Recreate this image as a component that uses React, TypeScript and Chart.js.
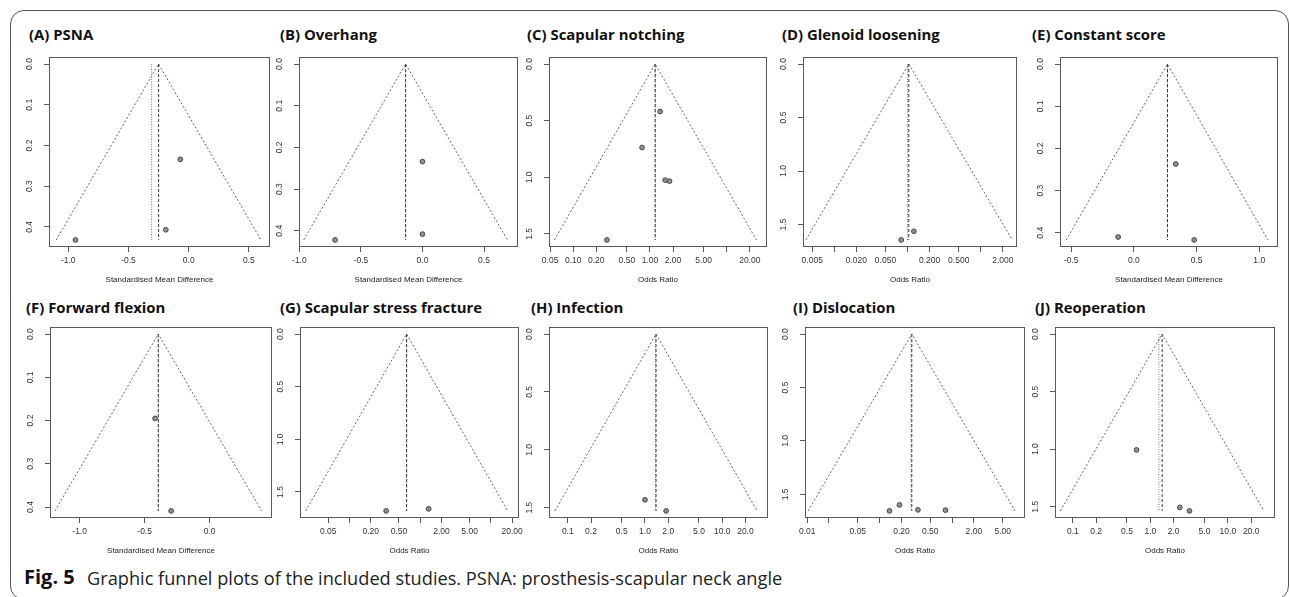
import React, { useEffect, useRef } from 'react';
import { Chart, registerables } from 'chart.js';

Chart.register(...registerables);

// ---------------- data ----------------
const panelTitles = [
  '(A) PSNA',
  '(B) Overhang',
  '(C) Scapular notching',
  '(D) Glenoid loosening',
  '(E) Constant score',
  '(F) Forward flexion',
  '(G) Scapular stress fracture',
  '(H) Infection',
  '(I) Dislocation',
  '(J) Reoperation',
];
const xAxisTitles = [
  'Standardised Mean Difference',
  'Standardised Mean Difference',
  'Odds Ratio',
  'Odds Ratio',
  'Standardised Mean Difference',
  'Standardised Mean Difference',
  'Odds Ratio',
  'Odds Ratio',
  'Odds Ratio',
  'Odds Ratio',
];
const isOddsRatio = [false, false, true, true, false, false, true, true, true, true];

// study effect estimates (x) and standard errors (y)
const effectA = [-0.94, -0.19, -0.07];
const seA = [0.432, 0.407, 0.234];
const effectB = [-0.71, 0.0, 0.0];
const seB = [0.422, 0.234, 0.408];
const effectC = [1.36, 0.79, 1.58, 1.8, 0.275];
const seC = [0.419, 0.737, 1.025, 1.034, 1.553];
const effectD = [0.082, 0.122];
const seD = [1.644, 1.563];
const effectE = [-0.126, 0.481, 0.334];
const seE = [0.41, 0.417, 0.237];
const effectF = [-0.42, -0.296];
const seF = [0.195, 0.409];
const effectG = [0.33, 1.32];
const seG = [1.68, 1.66];
const effectH = [1.0, 1.88];
const seH = [1.432, 1.528];
const effectI = [0.137, 0.188, 0.338, 0.811];
const seI = [1.655, 1.599, 1.645, 1.648];
const effectJ = [0.664, 2.4, 3.2];
const seJ = [1.006, 1.506, 1.536];

const studyEffects = [effectA, effectB, effectC, effectD, effectE, effectF, effectG, effectH, effectI, effectJ];
const studySE = [seA, seB, seC, seD, seE, seF, seG, seH, seI, seJ];

// pooled estimates: fixed (dashed) and random (dotted)
const fixedEffect = [-0.25, -0.137, 1.17, 0.104, 0.268, -0.395, 0.643, 1.39, 0.278, 1.42];
const randomEffect = [-0.308, -0.137, 1.17, 0.1, 0.268, -0.395, 0.643, 1.37, 0.272, 1.29];
// funnel (pseudo 95% CI) limits at the largest standard error
const maxSE = [0.432, 0.422, 1.553, 1.644, 0.417, 0.409, 1.68, 1.528, 1.655, 1.536];
const funnelLower = [-1.1, -0.965, 0.057, 0.0041, -0.54, -1.19, 0.024, 0.068, 0.0103, 0.069];
const funnelUpper = [0.6, 0.69, 24.4, 2.69, 1.07, 0.4, 17.3, 28.4, 7.4, 29.2];

// axes
const xAxisMin = [-1.16, -1.003, 0.0484, 0.00374, -0.59, -1.228, 0.01995, 0.0571, 0.00933, 0.0589];
const xAxisMax = [0.675, 0.776, 33.5, 3.12, 1.15, 0.48, 25.0, 39.2, 10.16, 40.6];

const smdTicks = [-1, -0.5, 0, 0.5];
const smdTickLabels = ['-1.0', '-0.5', '0.0', '0.5'];
const orTicksC = [0.05, 0.1, 0.2, 0.5, 1, 2, 5, 10, 20];
const orLabelsC = ['0.05', '0.10', '0.20', '0.50', '1.00', '2.00', '5.00', '', '20.00'];
const orTicksD = [0.005, 0.01, 0.02, 0.05, 0.1, 0.2, 0.5, 1, 2];
const orLabelsD = ['0.005', '', '0.020', '0.050', '', '0.200', '0.500', '', '2.000'];
const smdTicksE = [-0.5, 0, 0.5, 1];
const smdLabelsE = ['-0.5', '0.0', '0.5', '1.0'];
const smdTicksF = [-1, -0.5, 0];
const smdLabelsF = ['-1.0', '-0.5', '0.0'];
const orTicksG = [0.05, 0.1, 0.2, 0.5, 1, 2, 5, 10, 20];
const orLabelsG = ['0.05', '', '0.20', '0.50', '', '2.00', '5.00', '', '20.00'];
const orTicksHJ = [0.1, 0.2, 0.5, 1, 2, 5, 10, 20];
const orLabelsHJ = ['0.1', '0.2', '0.5', '1.0', '2.0', '5.0', '10.0', '20.0'];
const orTicksI = [0.01, 0.02, 0.05, 0.1, 0.2, 0.5, 1, 2, 5];
const orLabelsI = ['0.01', '', '0.05', '', '0.20', '0.50', '', '2.00', '5.00'];

const xTickValues = [smdTicks, smdTicks, orTicksC, orTicksD, smdTicksE, smdTicksF, orTicksG, orTicksHJ, orTicksI, orTicksHJ];
const xTickLabels = [smdTickLabels, smdTickLabels, orLabelsC, orLabelsD, smdLabelsE, smdLabelsF, orLabelsG, orLabelsHJ, orLabelsI, orLabelsHJ];

const seTicksSmall = [0, 0.1, 0.2, 0.3, 0.4];
const seLabelsSmall = ['0.0', '0.1', '0.2', '0.3', '0.4'];
const seTicksLarge = [0, 0.5, 1, 1.5];
const seLabelsLarge = ['0.0', '0.5', '1.0', '1.5'];
const yTickValues = [seTicksSmall, seTicksSmall, seTicksLarge, seTicksLarge, seTicksSmall, seTicksSmall, seTicksLarge, seTicksLarge, seTicksLarge, seTicksLarge];
const yTickLabels = [seLabelsSmall, seLabelsSmall, seLabelsLarge, seLabelsLarge, seLabelsSmall, seLabelsSmall, seLabelsLarge, seLabelsLarge, seLabelsLarge, seLabelsLarge];

// ---------------- layout ----------------
const boxLeft = [49, 299, 549, 803, 1060, 50, 300, 549, 805, 1055];
const boxRight = [270, 518, 767, 1017, 1278, 272, 519, 768, 1025, 1275];
const boxTop = [57, 57, 57, 57, 57, 327, 327, 327, 327, 327];
const boxBottom = [247, 247, 247, 247, 247, 518, 518, 518, 518, 518];
const titleLeft = [29, 280, 527, 782, 1032, 26, 280, 531, 793, 1035];
const titleCenterY = [34.5, 34.5, 34.5, 34.5, 34.5, 307, 307, 307, 307, 307];

const PAD_L = 40;
const PAD_R = 6;
const PAD_T = 6;
const PAD_B = 42;
const AXIS_FONT = '"Liberation Sans", Arial, Helvetica, sans-serif';

const rFramePlugin = {
  id: 'rFrame',
  afterDraw(chart: any, _args: any, opts: any) {
    const { ctx, chartArea: a } = chart;
    ctx.save();
    ctx.strokeStyle = '#5a5a5a';
    ctx.lineWidth = 1;
    const x0 = Math.round(a.left) + 0.5;
    const x1 = Math.round(a.right) - 0.5;
    const y0 = Math.round(a.top) + 0.5;
    const y1 = Math.round(a.bottom) - 0.5;
    ctx.strokeRect(x0, y0, x1 - x0, y1 - y0);
    const ys = chart.scales.y;
    ctx.fillStyle = '#333';
    ctx.font = `8.5px ${AXIS_FONT}`;
    ctx.textAlign = 'center';
    ctx.textBaseline = 'middle';
    const labels: string[] = opts.labels || [];
    ys.ticks.forEach((t: any, k: number) => {
      const py = ys.getPixelForValue(t.value);
      ctx.save();
      ctx.translate(a.left - 19, py);
      ctx.rotate(-Math.PI / 2);
      ctx.fillText(labels[k] ?? '', 0, 0);
      ctx.restore();
    });
    ctx.restore();
  },
};

function FunnelPanel({ i }: { i: number }) {
  const ref = useRef<HTMLCanvasElement | null>(null);
  const W = boxRight[i] - boxLeft[i] + PAD_L + PAD_R;
  const H = boxBottom[i] - boxTop[i] + PAD_T + PAD_B;

  useEffect(() => {
    if (!ref.current) return;
    const M = maxSE[i];
    const points = studyEffects[i].map((x, k) => ({ x, y: studySE[i][k] }));
    const lineBase = {
      showLine: true,
      pointRadius: 0,
      pointHoverRadius: 0,
      borderWidth: 1,
      fill: false,
      tension: 0,
    };
    const chart = new Chart(ref.current, {
      type: 'scatter',
      data: {
        datasets: [
          {
            label: 'studies',
            data: points,
            showLine: false,
            pointRadius: 2.4,
            pointHoverRadius: 2.4,
            pointBackgroundColor: '#8f8f8f',
            pointBorderColor: '#3c3c3c',
            pointBorderWidth: 0.9,
          },
          {
            ...lineBase,
            label: 'fixed',
            data: [
              { x: fixedEffect[i], y: 0 },
              { x: fixedEffect[i], y: M },
            ],
            borderColor: '#3a3a3a',
            borderDash: [3, 2],
          },
          {
            ...lineBase,
            label: 'random',
            data: [
              { x: randomEffect[i], y: 0 },
              { x: randomEffect[i], y: M },
            ],
            borderColor: '#777',
            borderDash: [1, 1.5],
          },
          {
            ...lineBase,
            label: 'funnel',
            data: [
              { x: funnelLower[i], y: M },
              { x: fixedEffect[i], y: 0 },
              { x: funnelUpper[i], y: M },
            ],
            borderColor: '#666',
            borderDash: [2, 2],
          },
        ],
      } as any,
      options: {
        responsive: false,
        maintainAspectRatio: false,
        animation: false,
        devicePixelRatio: 1,
        events: [],
        layout: { padding: { left: 0, right: PAD_R, top: PAD_T, bottom: 0 } },
        plugins: {
          legend: { display: false },
          tooltip: { enabled: false },
          rFrame: { labels: yTickLabels[i] },
        } as any,
        scales: {
          x: {
            type: isOddsRatio[i] ? 'logarithmic' : 'linear',
            position: 'bottom',
            min: xAxisMin[i],
            max: xAxisMax[i],
            afterBuildTicks: (s: any) => {
              s.ticks = xTickValues[i].map((v) => ({ value: v }));
            },
            afterFit: (s: any) => {
              s.height = PAD_B;
              s.paddingLeft = 0;
              s.paddingRight = 0;
            },
            ticks: {
              autoSkip: false,
              maxRotation: 0,
              minRotation: 0,
              padding: 4,
              color: '#333',
              font: { family: AXIS_FONT, size: 8.5 },
              callback: (_v: any, idx: number) => xTickLabels[i][idx] ?? '',
            },
            grid: {
              display: true,
              drawOnChartArea: false,
              drawTicks: true,
              tickLength: 5,
              color: '#5a5a5a',
              lineWidth: 1,
            },
            border: { display: false },
            title: {
              display: true,
              text: xAxisTitles[i],
              color: '#222',
              font: { family: AXIS_FONT, size: 8 },
              padding: { top: 0, bottom: 4 },
            },
          },
          y: {
            type: 'linear',
            position: 'left',
            reverse: true,
            min: -0.04 * M,
            max: 1.04 * M,
            afterBuildTicks: (s: any) => {
              s.ticks = yTickValues[i].map((v) => ({ value: v }));
            },
            afterFit: (s: any) => {
              s.width = PAD_L;
              s.paddingTop = 0;
              s.paddingBottom = 0;
            },
            ticks: { display: false },
            grid: {
              display: true,
              drawOnChartArea: false,
              drawTicks: true,
              tickLength: 5,
              color: '#5a5a5a',
              lineWidth: 1,
            },
            border: { display: false },
          },
        } as any,
      },
      plugins: [rFramePlugin as any],
    });
    return () => chart.destroy();
  }, [i]);

  return (
    <canvas
      ref={ref}
      width={W}
      height={H}
      style={{
        position: 'absolute',
        left: boxLeft[i] - PAD_L,
        top: boxTop[i] - PAD_T,
        width: W,
        height: H,
      }}
    />
  );
}

export default function App() {
  const TITLE_LH = 22;
  return (
    <div
      style={{
        position: 'fixed',
        left: 0,
        top: 0,
        width: 1290,
        height: 597,
        background: '#fff',
        overflow: 'hidden',
      }}
    >
      <div
        style={{
          position: 'absolute',
          left: 10,
          top: 10,
          width: 1279,
          height: 590,
          border: '1px solid #555',
          borderRadius: 14,
          boxSizing: 'border-box',
        }}
      />
      {panelTitles.map((t, i) => (
        <div
          key={'t' + i}
          style={{
            position: 'absolute',
            left: titleLeft[i],
            top: titleCenterY[i] - 11.5,
            height: TITLE_LH,
            lineHeight: TITLE_LH + 'px',
            fontFamily: '"Open Sans", "Noto Sans", sans-serif',
            fontWeight: 700,
            fontSize: 14.9,
            color: '#111',
            whiteSpace: 'nowrap',
          }}
        >
          {t}
        </div>
      ))}
      {panelTitles.map((_t, i) => (
        <FunnelPanel key={'p' + i} i={i} />
      ))}
      <div
        style={{
          position: 'absolute',
          left: 24,
          top: 564,
          lineHeight: '26px',
          fontFamily: '"Open Sans", "Noto Sans", sans-serif',
          fontWeight: 700,
          fontSize: 20,
          color: '#111',
          whiteSpace: 'nowrap',
        }}
      >
        Fig. 5
      </div>
      <div
        style={{
          position: 'absolute',
          left: 87,
          top: 565,
          lineHeight: '26px',
          fontFamily: '"Open Sans", "Noto Sans", sans-serif',
          fontWeight: 400,
          fontSize: 18.2,
          color: '#222',
          whiteSpace: 'nowrap',
        }}
      >
        Graphic funnel plots of the included studies. PSNA: prosthesis-scapular neck angle
      </div>
    </div>
  );
}
